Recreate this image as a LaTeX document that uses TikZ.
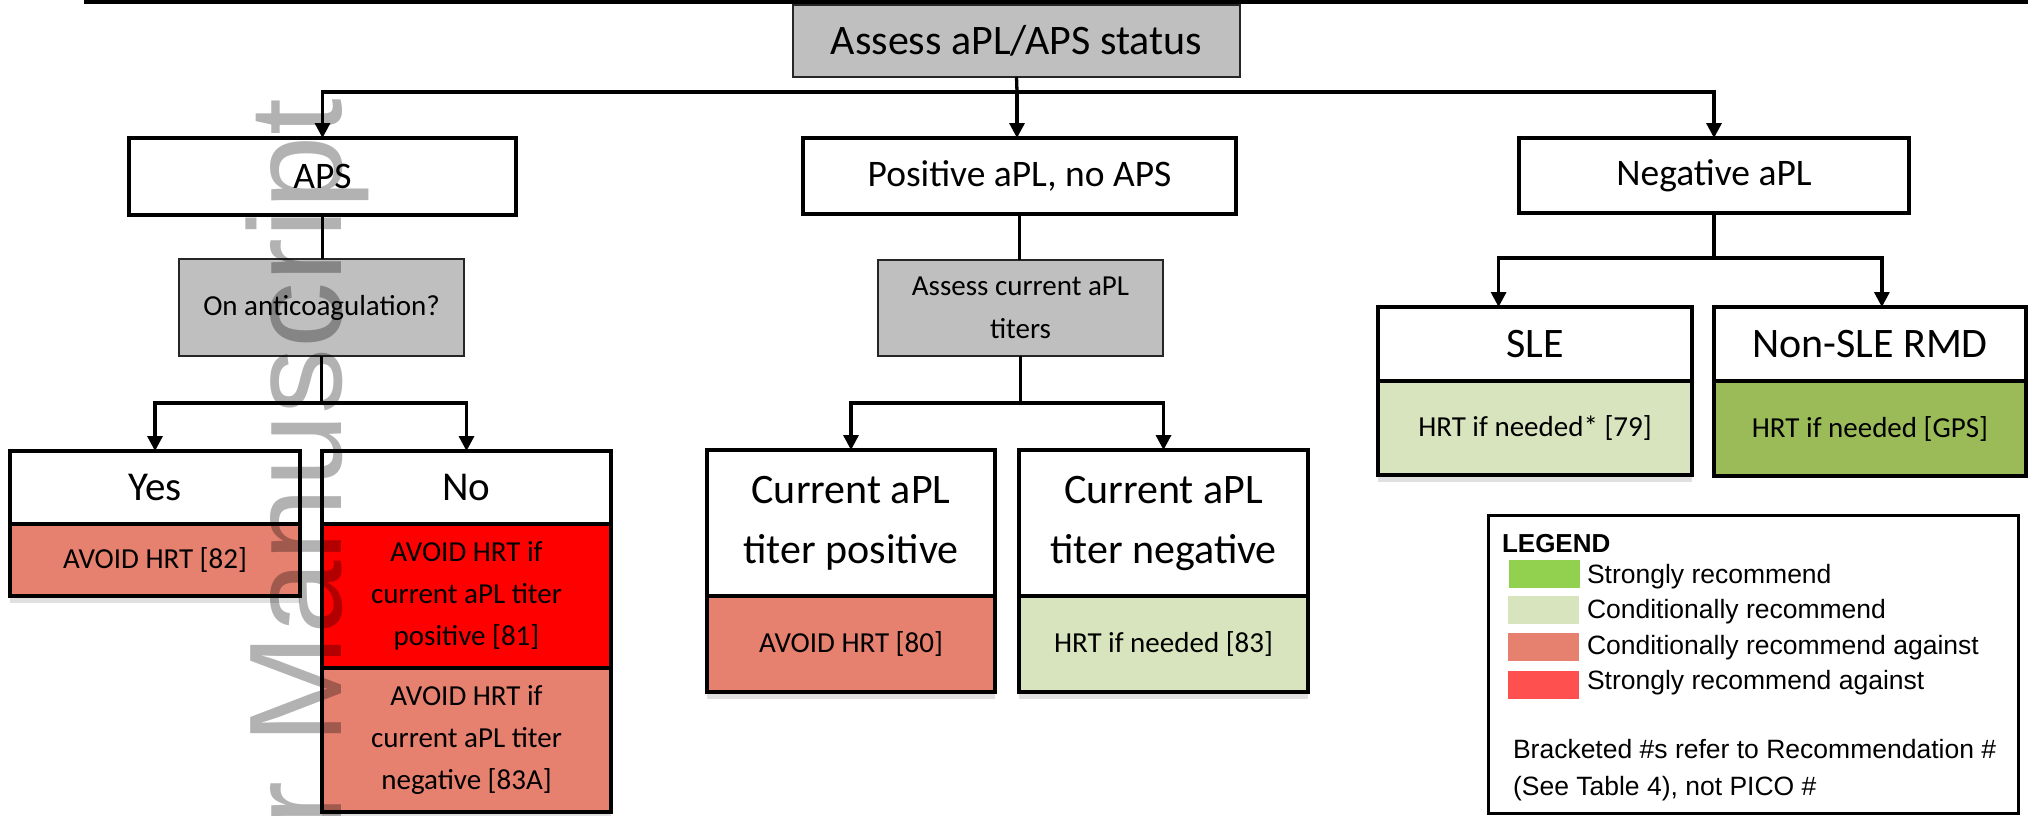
\documentclass[tikz,border=0pt]{standalone}
\usepackage{fontspec}
\setmainfont{Carlito}
\newfontfamily\arialfont{Liberation Sans}
\usetikzlibrary{arrows.meta,calc,shadows}

\definecolor{boxgray}{HTML}{BFBFBF}
\definecolor{salmon}{RGB}{230,128,111}
\definecolor{strongred}{RGB}{255,0,0}
\definecolor{paleolive}{HTML}{D7E4BD}
\definecolor{olive}{HTML}{9BBB59}
\definecolor{leggreen}{HTML}{92D050}
\definecolor{legred}{HTML}{FF5050}

\begin{document}
\begin{tikzpicture}[x=1pt,y=-1pt,
  every node/.style={inner sep=0pt, outer sep=0pt},
  hdr/.style={draw=black, line width=4pt, fill=white, align=center,
    font=\fontsize{41}{60}\selectfont},
  catbox/.style={hdr, font=\fontsize{37.5}{45}\selectfont},
  bodybox/.style={draw=black, line width=4pt, align=center,
    font=\fontsize{29}{42}\selectfont},
  shadowed/.style={drop shadow={shadow xshift=0pt, shadow yshift=-7pt,
    opacity=0.12, fill=black}},
  qbox/.style={draw=black!85, line width=1.5pt, fill=boxgray, align=center,
    font=\fontsize{29}{43}\selectfont},
  link/.style={line width=3.3pt},
  arr/.style={link, -{Triangle[length=15pt,width=15pt]}},
  swatch/.style={minimum width=71pt, minimum height=28pt},
  legtext/.style={anchor=base west, font=\arialfont\fontsize{26.5}{30}\selectfont}
]
\useasboundingbox (0,0) rectangle (2028,815);

% rule along the top edge
\fill (84,0) rectangle (2028,4);

% root question
\node[qbox, font=\fontsize{42}{50}\selectfont, minimum width=447pt, minimum height=72pt]
  (top) at (1016.5,41) {Assess aPL/APS status};

% three categories
\node[catbox, minimum width=387pt, minimum height=77pt] (aps) at (322.5,176.5) {APS};
\node[catbox, minimum width=433pt, minimum height=76pt] (pos) at (1019.5,176) {Positive aPL, no APS};
\node[catbox, minimum width=390pt, minimum height=75pt] (neg) at (1714,175.5) {Negative aPL};

% secondary questions
\node[qbox, minimum width=285pt, minimum height=97pt] (anti) at (321.5,307.5) {On anticoagulation?};
\node[qbox, minimum width=285pt, minimum height=96pt] (titers) at (1020.5,308) {Assess current aPL\\titers};

% APS branch
\node[hdr, minimum width=290pt, minimum height=73pt] (yes) at (155,487.5) {Yes};
\node[bodybox, shadowed, fill=salmon, minimum width=290pt, minimum height=72pt]
  (yesrec) at (155,560) {AVOID HRT [82]};
\node[hdr, minimum width=289pt, minimum height=73pt] (no) at (466.5,487.5) {No};
\node[bodybox, fill=strongred, minimum width=289pt, minimum height=144pt]
  (norecpos) at (466.5,596) {AVOID HRT if\\current aPL titer\\positive [81]};
\node[bodybox, shadowed, fill=salmon, minimum width=289pt, minimum height=144pt]
  (norecneg) at (466.5,740) {AVOID HRT if\\current aPL titer\\negative [83A]};

% positive aPL branch
\node[hdr, font=\fontsize{42}{60}\selectfont, minimum width=288pt, minimum height=146pt]
  (cpos) at (851,523) {Current aPL\\titer positive};
\node[bodybox, shadowed, fill=salmon, minimum width=288pt, minimum height=96pt]
  (cposrec) at (851,644) {AVOID HRT [80]};
\node[hdr, font=\fontsize{42}{60}\selectfont, minimum width=289pt, minimum height=146pt]
  (cneg) at (1163.5,523) {Current aPL\\titer negative};
\node[bodybox, shadowed, fill=paleolive, minimum width=289pt, minimum height=96pt]
  (cnegrec) at (1163.5,644) {HRT if needed [83]};

% negative aPL branch
\node[hdr, font=\fontsize{42}{50}\selectfont, minimum width=314pt, minimum height=74pt]
  (sle) at (1535,344) {SLE};
\node[bodybox, shadowed, fill=paleolive, minimum width=314pt, minimum height=94pt]
  (slerec) at (1535,428) {HRT if needed* [79]};
\node[hdr, font=\fontsize{42}{50}\selectfont, minimum width=312pt, minimum height=74pt]
  (nsle) at (1870,344) {Non-SLE RMD};
\node[bodybox, fill=olive, minimum width=312pt, minimum height=95pt]
  (nslerec) at (1870,428.5) {HRT if needed [GPS]};

% connectors
\coordinate (j1) at (1017,92);
\draw[link] (top.south) -- (j1);
\draw[arr] (j1) -| (aps.north);
\draw[arr] (j1) -| (neg.north);
\draw[arr] (j1) -- (j1 |- pos.north);

\draw[link] (aps.south) -- (aps.south |- anti.north);
\coordinate (j2) at (321.5,403);
\draw[link] (anti.south) -- (j2);
\draw[arr] (j2) -| (yes.north);
\draw[arr] (j2) -| (no.north);

\draw[link] (pos.south) -- (pos.south |- titers.north);
\coordinate (j3) at (1020.5,403);
\draw[link] (titers.south) -- (j3);
\draw[arr] (j3) -| (cpos.north);
\draw[arr] (j3) -| (cneg.north);

\coordinate (j4) at (1714,258);
\draw[link] (neg.south) -- (j4);
\draw[arr] (j4) -| ($(sle.north west)!0.384!(sle.north east)$);
\draw[arr] (j4) -| ($(nsle.north west)!0.538!(nsle.north east)$);

% legend
\node[draw=black, line width=3pt, minimum width=530pt, minimum height=298pt] (legend) at (1753,664) {};
\node[anchor=base west, font=\arialfont\bfseries\fontsize{26}{30}\selectfont] (legtitle) at (1502,552) {LEGEND};
\node[swatch, fill=leggreen] (sw1) at (1544.5,574) {};
\node[swatch, fill=paleolive] (sw2) at (1543,610) {};
\node[swatch, fill=salmon] (sw3) at (1543,647) {};
\node[swatch, fill=legred] (sw4) at (1543,685) {};
\node[legtext] (lt1) at (1587,583) {Strongly recommend};
\node[legtext] (lt2) at (1587,618) {Conditionally recommend};
\node[legtext] (lt3) at (1587,654) {Conditionally recommend against};
\node[legtext] (lt4) at (1587,689) {Strongly recommend against};
\node[legtext] (note1) at (1513,758) {Bracketed \#s refer to Recommendation \#};
\node[legtext] (note2) at (1513,795) {(See Table 4), not PICO \#};

% watermark
\node[rotate=90, anchor=base east, text=black, opacity=0.3,
  font=\arialfont\fontsize{132}{140}\selectfont] (wm) at (341,99) {Author Manuscript};
\end{tikzpicture}
\end{document}
